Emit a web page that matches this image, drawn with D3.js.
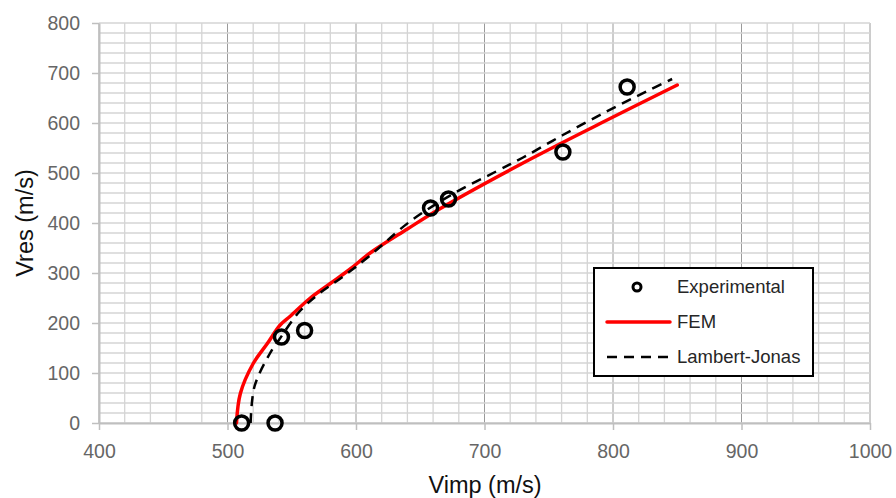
<!DOCTYPE html>
<html>
<head>
<meta charset="utf-8">
<script src="https://cdn.jsdelivr.net/npm/d3@7"></script>
<style>
  body { margin: 0; background: #fff; }
  svg { display: block; }
  .tick-label { font-family: "Liberation Sans", Arial, sans-serif; font-size: 19.5px; fill: #666666; }
  .axis-title { font-family: "Liberation Sans", Arial, sans-serif; font-size: 23.5px; fill: #111; }
  .legend-text { font-family: "Liberation Sans", Arial, sans-serif; font-size: 18.5px; fill: #262626; }
</style>
</head>
<body>
<div id="chart"></div>
<script>
const frame_width = 896;
const frame_height = 498;
const margins = {left: 99, right: 26, top: 23, bottom: 75};

// values
const x_ticks = [400, 500, 600, 700, 800, 900, 1000];
const y_ticks = [0, 100, 200, 300, 400, 500, 600, 700, 800];

const experimental = [
  [511, 0], [537, 0], [542, 172], [560, 185],
  [658, 430], [672, 448], [761, 542], [811, 672]
];
const fem = [
  [507, 0], [510, 59], [520, 119], [531, 159], [541, 196], [549, 214],
  [564, 249], [580, 279], [595, 307], [611, 340], [640, 388], [665, 428],
  [730, 520], [790, 599], [850, 676]
];
const lambert_jonas = [
  [518, 0], [521, 73], [533, 139], [540, 166], [556, 223], [572, 260],
  [590, 293], [610, 333], [642, 403], [676, 459], [709, 503], [730, 531],
  [761, 576], [795, 623], [826, 663], [846, 688]
];

const svg = d3.select("#chart")
  .append("svg")
    .attr("width", frame_width)
    .attr("height", frame_height);

const x_scale = d3.scaleLinear()
  .domain([400, 1000])
  .range([margins.left, frame_width - margins.right]);

const y_scale = d3.scaleLinear()
  .domain([0, 800])
  .range([frame_height - margins.bottom, margins.top]);

const y0 = y_scale(0), y1 = y_scale(800);
const x0 = x_scale(400), x1 = x_scale(1000);

// grid every 20, darker verticals every 100
const grid = svg.append("g");
d3.range(400, 1001, 20).forEach(v => {
  const major = v % 100 === 0;
  grid.append("line")
    .attr("x1", x_scale(v)).attr("x2", x_scale(v))
    .attr("y1", y1).attr("y2", y0)
    .attr("stroke", major ? "#9a9a9a" : "#d4d4d4")
    .attr("stroke-width", major ? 1 : 1.3);
});
d3.range(0, 801, 20).forEach(v => {
  grid.append("line")
    .attr("x1", x0).attr("x2", x1)
    .attr("y1", y_scale(v)).attr("y2", y_scale(v))
    .attr("stroke", "#d4d4d4")
    .attr("stroke-width", 1.3);
});

// axes
const xAxis = svg.append("g")
  .attr("transform", "translate(0," + y0 + ")")
  .call(d3.axisBottom(x_scale).tickValues(x_ticks).tickFormat(d3.format("d"))
    .tickSize(7).tickSizeOuter(0).tickPadding(14));
const yAxis = svg.append("g")
  .attr("transform", "translate(" + x0 + ",0)")
  .call(d3.axisLeft(y_scale).tickValues(y_ticks).tickFormat(d3.format("d"))
    .tickSize(7).tickSizeOuter(0).tickPadding(12));

[xAxis, yAxis].forEach(ax => {
  ax.select(".domain").attr("stroke", "#bfbfbf").attr("stroke-width", 2);
  ax.selectAll(".tick line").attr("stroke", "#bfbfbf").attr("stroke-width", 1.5);
  ax.selectAll(".tick text").attr("class", "tick-label").attr("fill", null);
});

// axis titles
svg.append("text")
  .attr("class", "axis-title")
  .attr("x", 485)
  .attr("y", 493)
  .attr("text-anchor", "middle")
  .text("Vimp (m/s)");

svg.append("text")
  .attr("class", "axis-title")
  .attr("transform", "translate(33,223) rotate(-90)")
  .attr("text-anchor", "middle")
  .text("Vres (m/s)");

// lines
const line = d3.line()
  .x(d => x_scale(d[0]))
  .y(d => y_scale(d[1]))
  .curve(d3.curveCatmullRom.alpha(0.5));

svg.append("path")
  .datum(fem)
  .attr("d", line)
  .attr("fill", "none")
  .attr("stroke", "#ff0000")
  .attr("stroke-width", 3.5)
  .attr("stroke-linecap", "round");

svg.append("path")
  .datum(lambert_jonas)
  .attr("d", line)
  .attr("fill", "none")
  .attr("stroke", "#000")
  .attr("stroke-width", 2.5)
  .attr("stroke-dasharray", "10,7");

// experimental points
svg.selectAll(".exp")
  .data(experimental)
  .enter()
  .append("circle")
    .attr("class", "exp")
    .attr("cx", d => x_scale(d[0]))
    .attr("cy", d => y_scale(d[1]))
    .attr("r", 7)
    .attr("fill", "none")
    .attr("stroke", "#000")
    .attr("stroke-width", 3.5);

// legend
const legend = svg.append("g").attr("transform", "translate(594,268)");
legend.append("rect")
  .attr("width", 219).attr("height", 108)
  .attr("fill", "#fff")
  .attr("stroke", "#000")
  .attr("stroke-width", 2);

legend.append("circle")
  .attr("cx", 43).attr("cy", 19).attr("r", 4)
  .attr("fill", "none").attr("stroke", "#000").attr("stroke-width", 3);
legend.append("line")
  .attr("x1", 13).attr("x2", 76).attr("y1", 54).attr("y2", 54)
  .attr("stroke", "#ff0000").attr("stroke-width", 3.5).attr("stroke-linecap", "round");
legend.append("line")
  .attr("x1", 13).attr("x2", 76).attr("y1", 89).attr("y2", 89)
  .attr("stroke", "#000").attr("stroke-width", 2.5).attr("stroke-dasharray", "10,7");

["Experimental", "FEM", "Lambert-Jonas"].forEach((t, i) => {
  legend.append("text")
    .attr("class", "legend-text")
    .attr("x", 83)
    .attr("y", 19 + i * 35)
    .attr("dy", "0.35em")
    .text(t);
});
</script>
</body>
</html>
